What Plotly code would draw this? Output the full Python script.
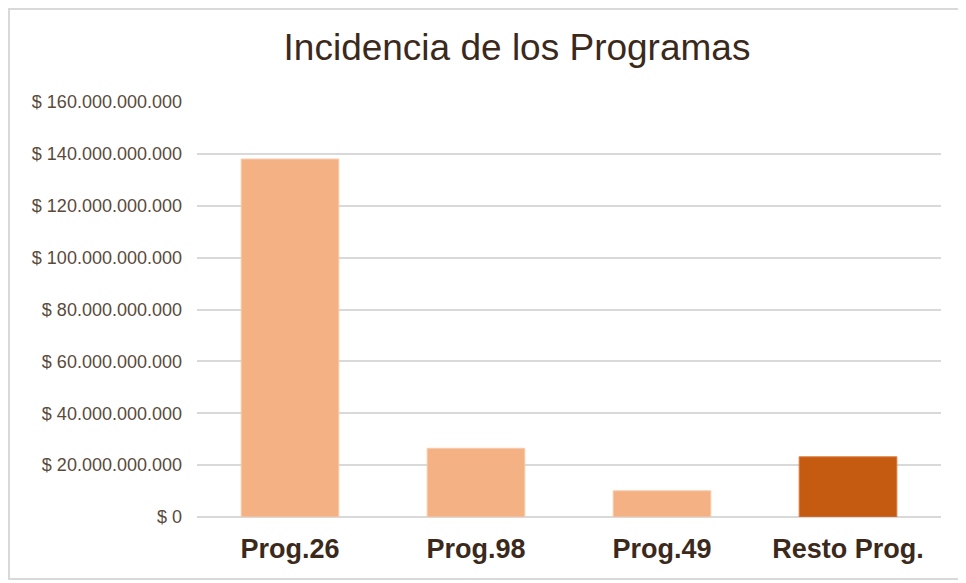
import plotly.graph_objects as go

categories = ["Prog.26", "Prog.98", "Prog.49", "Resto Prog."]
values = [138.0e9, 26.5e9, 10.1e9, 23.2e9]
bar_colors = ["#F4B183", "#F4B183", "#F4B183", "#C55A11"]
edge_colors = ["#F8CBAD", "#F8CBAD", "#F8CBAD", "#D97A3A"]
tick_vals = [0, 20e9, 40e9, 60e9, 80e9, 100e9, 120e9, 140e9, 160e9]
tick_text = ["$ 0", "$ 20.000.000.000", "$ 40.000.000.000", "$ 60.000.000.000",
             "$ 80.000.000.000", "$ 100.000.000.000", "$ 120.000.000.000",
             "$ 140.000.000.000", "$ 160.000.000.000"]

# page is rendered with an 8px body margin, so work in figure coordinates
OFF = 8
W, H = 966 - OFF, 583 - OFF
L, R, T, B = 197 - OFF, 25, 102 - OFF, 66
pw = W - L - R
ph = H - T - B

def px(x):
    return (x - OFF - L) / pw

def py(y):
    return (H - B - (y - OFF)) / ph

fig = go.Figure(go.Bar(
    x=categories, y=values,
    marker=dict(color=bar_colors, line=dict(color=edge_colors, width=1)),
    width=0.525,
))

fig.update_layout(
    width=W, height=H,
    margin=dict(l=L, r=R, t=T, b=B),
    paper_bgcolor="white", plot_bgcolor="white",
    font=dict(family="Liberation Sans, Arial, sans-serif"),
    showlegend=False,
    title=dict(text="Incidencia de los Programas", x=px(517), xref="paper", xanchor="center",
               y=1 - (47 - OFF) / H, yref="container", yanchor="middle",
               font=dict(size=37, color="#3B2A1C")),
    xaxis=dict(showgrid=False, showline=False, zeroline=False, ticks="",
               tickfont=dict(size=27, color="#3B2A1C", weight="bold"),
               ticklabelstandoff=13),
    yaxis=dict(range=[0, 160e9], tickvals=tick_vals, ticktext=tick_text,
               showgrid=True, gridcolor="#D9D9D9", gridwidth=2, zeroline=True,
               zerolinecolor="#D9D9D9", zerolinewidth=2, showline=False,
               tickfont=dict(size=18, color="#5A4A3C"), ticklabelstandoff=14),
    shapes=[dict(type="rect", xref="paper", yref="paper",
                 x0=px(9), x1=px(963), y0=py(579), y1=py(9),
                 line=dict(color="#D9D9D9", width=2), fillcolor="rgba(0,0,0,0)", layer="below")],
)

fig.write_html("out.html")
